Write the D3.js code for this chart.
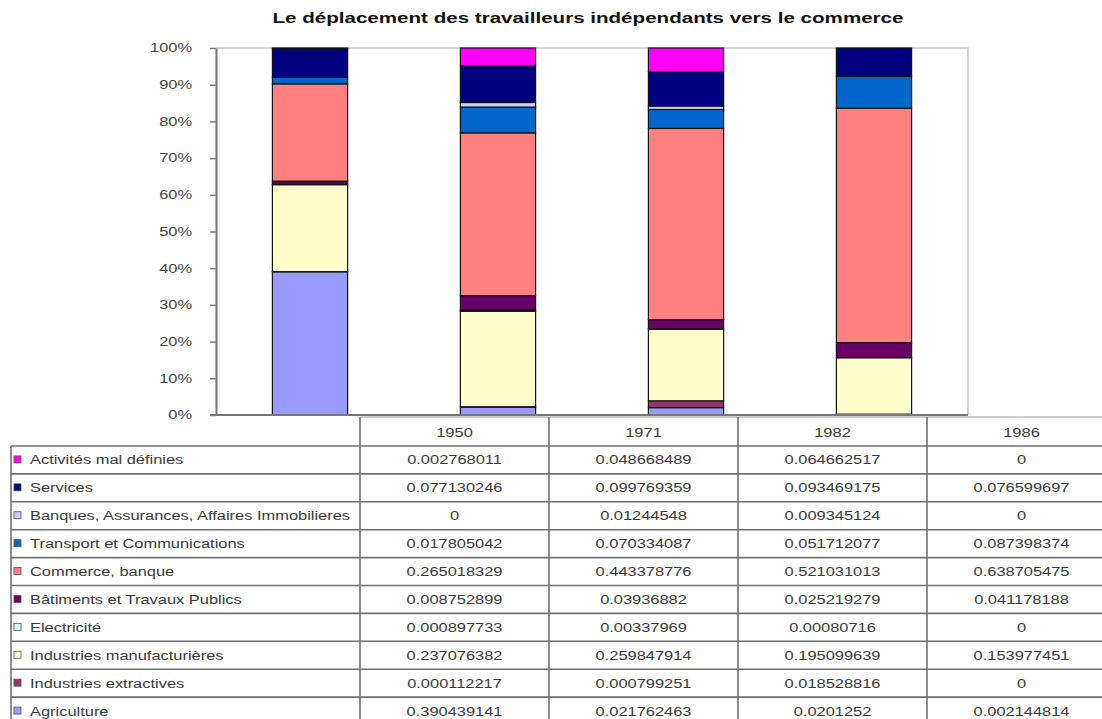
<!DOCTYPE html>
<html><head><meta charset="utf-8">
<script src="https://cdn.jsdelivr.net/npm/d3@7"></script>
<style>body{margin:0;background:#fff}svg{display:block}</style>
</head><body><svg id="c" width="1102" height="719"></svg>
<script>
const title = "Le déplacement des travailleurs indépendants vers le commerce";
const years = ["1950", "1971", "1982", "1986"];
// stacking order, bottom to top
const seriesNames = ["Agriculture", "Industries extractives", "Industries manufacturières", "Electricité",
  "Bâtiments et Travaux Publics", "Commerce, banque", "Transport et Communications",
  "Banques, Assurances, Affaires Immobilieres", "Services", "Activités mal définies"];
const agriculture   = [0.390439141, 0.021762463, 0.0201252, 0.002144814];
const extractives   = [0.000112217, 0.000799251, 0.018528816, 0];
const manufacturieres = [0.237076382, 0.259847914, 0.195099639, 0.153977451];
const electricite   = [0.000897733, 0.00337969, 0.00080716, 0];
const batiments     = [0.008752899, 0.03936882, 0.025219279, 0.041178188];
const commerce      = [0.265018329, 0.443378776, 0.521031013, 0.638705475];
const transport     = [0.017805042, 0.070334087, 0.051712077, 0.087398374];
const banques       = [0, 0.01244548, 0.009345124, 0];
const services      = [0.077130246, 0.099769359, 0.093469175, 0.076599697];
const malDefinies   = [0.002768011, 0.048668489, 0.064662517, 0];
const seriesValues = [agriculture, extractives, manufacturieres, electricite, batiments,
  commerce, transport, banques, services, malDefinies];
const seriesColors = ["#9999FF", "#993366", "#FFFFCC", "#CCFFFF", "#660066",
  "#FF8080", "#0066CC", "#CCCCFF", "#000080", "#FF00FF"];
const yTicks = [0, 0.1, 0.2, 0.3, 0.4, 0.5, 0.6, 0.7, 0.8, 0.9, 1];

const svg = d3.select("#c");
const SX = 1.37;            // horizontal stretch of the original's text
const FONT = "Arial, 'Liberation Sans', sans-serif";
const TXT = "#3a3a3a";

function stext(parent, x, y, str, anchor, size, weight, fill) {
  parent.append("text")
    .attr("transform", `translate(${x},${y}) scale(${SX},1)`)
    .attr("text-anchor", anchor || "start")
    .attr("font-family", FONT)
    .attr("font-size", size || 12)
    .attr("font-weight", weight || "normal")
    .attr("fill", fill || TXT)
    .text(str);
}

// title
svg.append("text")
  .attr("x", 588).attr("y", 23)
  .attr("text-anchor", "middle")
  .attr("font-family", FONT).attr("font-size", 15).attr("font-weight", "bold")
  .attr("fill", "#111")
  .attr("textLength", 631).attr("lengthAdjust", "spacingAndGlyphs")
  .text(title);

// data rows
const rows = years.map((yr, i) => {
  const o = { year: yr };
  seriesNames.forEach((s, k) => o[s] = seriesValues[k][i]);
  return o;
});
const stacked = d3.stack().keys(seriesNames).offset(d3.stackOffsetExpand)(rows);

const x = d3.scaleBand().domain(years).range([216, 968]).paddingInner(0.6).paddingOuter(0.3);
const y = d3.scaleLinear().domain([0, 1]).range([415, 48]);
const color = d3.scaleOrdinal().domain(seriesNames).range(seriesColors);

// plot border (top, right)
svg.append("path")
  .attr("d", `M${x.range()[0]},${y(1)}H${x.range()[1]}V${y(0)}`)
  .attr("fill", "none").attr("stroke", "#c8c8c8").attr("stroke-width", 1.5);

// bars
svg.append("g").selectAll("g").data(stacked).join("g")
  .attr("fill", d => color(d.key))
  .selectAll("rect").data(d => d).join("rect")
  .attr("x", d => x(d.data.year))
  .attr("width", x.bandwidth())
  .attr("y", d => y(d[1]))
  .attr("height", d => y(d[0]) - y(d[1]))
  .attr("stroke", "#111").attr("stroke-width", 1.2);

// y axis
const yAxis = svg.append("g").attr("transform", "translate(216,0)")
  .call(d3.axisLeft(y).tickValues(yTicks).tickFormat(d3.format(".0%")).tickSize(6).tickSizeOuter(0));
yAxis.select(".domain").attr("stroke", "#777").attr("stroke-width", 2);
yAxis.selectAll(".tick line").attr("stroke", "#777").attr("stroke-width", 1.5);
yAxis.selectAll(".tick text")
  .attr("x", -(216 - 192) / SX)
  .attr("transform", `scale(${SX},1)`)
  .attr("font-family", FONT).attr("font-size", 12).attr("fill", "#444");

// x axis line
svg.append("line").attr("x1", 210).attr("x2", x.range()[1]).attr("y1", y(0)).attr("y2", y(0))
  .attr("stroke", "#777").attr("stroke-width", 2);

// data table
const tableRows = seriesNames.slice().reverse();
const tx = d3.scaleBand().domain(years).range([360, 1116]);
const ty = d3.scaleBand().domain(tableRows).range([446, 446 + 10 * 27.9]);
const tg = svg.append("g");
const lineC = "#707070";
// top of header
tg.append("line").attr("x1", 360).attr("x2", 1102).attr("y1", 417).attr("y2", 417)
  .attr("stroke", "#a0a0a0").attr("stroke-width", 1.2);
// horizontal row lines
tableRows.forEach(r => {
  tg.append("line").attr("x1", 11).attr("x2", 1102).attr("y1", ty(r)).attr("y2", ty(r))
    .attr("stroke", lineC).attr("stroke-width", 1.6);
});
// vertical lines
tg.append("line").attr("x1", 11).attr("x2", 11).attr("y1", ty(tableRows[0])).attr("y2", 719)
  .attr("stroke", lineC).attr("stroke-width", 1.6);
years.forEach(yr => {
  tg.append("line").attr("x1", tx(yr)).attr("x2", tx(yr)).attr("y1", 417).attr("y2", 719)
    .attr("stroke", lineC).attr("stroke-width", 1.6);
});
// header years
years.forEach(yr => stext(tg, tx(yr) + tx.bandwidth() / 2, 437, yr, "middle", 12));
// row labels and values
tableRows.forEach(r => {
  const k = seriesNames.indexOf(r);
  const cy = ty(r) + ty.bandwidth() / 2;
  tg.append("rect").attr("x", 14).attr("y", cy - 4).attr("width", 7).attr("height", 7)
    .attr("fill", color(r)).attr("stroke", "#555").attr("stroke-width", 0.8);
  stext(tg, 30, cy + 4.5, r, "start", 12);
  seriesValues[k].forEach((v, i) => {
    stext(tg, tx(years[i]) + tx.bandwidth() / 2, cy + 4.5, String(v), "middle", 12);
  });
});
</script></body></html>
